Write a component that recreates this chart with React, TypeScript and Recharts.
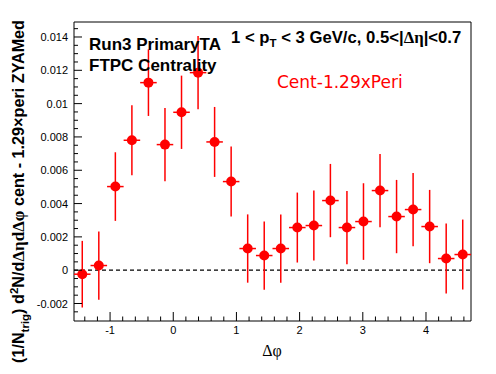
import { ComposedChart, Scatter, ErrorBar, XAxis, YAxis, ReferenceLine, ReferenceArea } from 'recharts'

// Δφ bin centres (24 bins over [-π/2, 3π/2])
const PHI = [
  -1.4399, -1.1781, -0.9163, -0.6545, -0.3927, -0.1309, 0.1309, 0.3927,
  0.6545, 0.9163, 1.1781, 1.4399, 1.7017, 1.9635, 2.2253, 2.4871,
  2.7489, 3.0107, 3.2725, 3.5343, 3.7961, 4.0579, 4.3197, 4.5815,
]
const YIELD = [
  -0.00024, 0.00028, 0.00502, 0.0078, 0.01126, 0.00754, 0.00948, 0.01186,
  0.0077, 0.00532, 0.0013, 0.00088, 0.0013, 0.00256, 0.00268, 0.00418,
  0.00256, 0.00292, 0.00478, 0.00322, 0.00364, 0.00262, 0.0007, 0.00094,
]
const YIELD_ERR = [
  0.002, 0.00205, 0.00206, 0.0021, 0.002, 0.0022, 0.0022, 0.0022,
  0.0021, 0.0021, 0.00205, 0.00205, 0.00205, 0.0021, 0.0021, 0.0022,
  0.0022, 0.0023, 0.0022, 0.0022, 0.0022, 0.0022, 0.0021, 0.0021,
]
const HALF_BIN = 0.1309

const X_MAJOR = [-1, 0, 1, 2, 3, 4]
const X_LABELS = ['-1', '0', '1', '2', '3', '4']
const Y_MAJOR = [-0.002, 0, 0.002, 0.004, 0.006, 0.008, 0.01, 0.012, 0.014]
const Y_LABELS = ['-0.002', '0', '0.002', '0.004', '0.006', '0.008', '0.01', '0.012', '0.014']

const X_TICKS = Array.from({ length: 31 }, (_, i) => Math.round((-1.4 + i * 0.2) * 10) / 10)
const Y_TICKS = Array.from({ length: 35 }, (_, i) => Math.round((-0.0025 + i * 0.0005) * 1e5) / 1e5)

const X_DOMAIN: [number, number] = [-Math.PI / 2, (3 * Math.PI) / 2]
const Y_DOMAIN: [number, number] = [-0.00305, 0.0149]

const SANS = '"Liberation Sans", Arial, Helvetica, sans-serif'
const SERIF = '"Liberation Serif", "Times New Roman", serif'

const data = PHI.map((x, i) => ({ x, y: YIELD[i], ex: HALF_BIN, ey: YIELD_ERR[i] }))

function XTick({ x, y, payload }: any) {
  const v = payload.value as number
  const idx = X_MAJOR.findIndex((m) => Math.abs(m - v) < 1e-6)
  const major = idx >= 0
  return (
    <g>
      <line x1={x} y1={y} x2={x} y2={y - (major ? 9 : 4.5)} stroke="#000" />
      {major && (
        <text x={x} y={y + 13} textAnchor="middle" fontSize={11} fontFamily={SANS} fill="#000">
          {X_LABELS[idx]}
        </text>
      )}
    </g>
  )
}

function YTick({ x, y, payload }: any) {
  const v = payload.value as number
  const idx = Y_MAJOR.findIndex((m) => Math.abs(m - v) < 1e-7)
  const major = idx >= 0
  return (
    <g>
      <line x1={x} y1={y} x2={x + (major ? 8 : 4)} y2={y} stroke="#000" />
      {major && (
        <text x={x - 6} y={y + 4} textAnchor="end" fontSize={11} fontFamily={SANS} fill="#000">
          {Y_LABELS[idx]}
        </text>
      )}
    </g>
  )
}

const dot = (p: any) => <circle cx={p.cx} cy={p.cy} r={5} fill="#ff0000" />

export default function App() {
  return (
    <div style={{ position: 'relative', width: 496, height: 374, background: '#fff' }}>
      <style>{'body{margin:0}'}</style>
      <ComposedChart width={496} height={374} data={data} margin={{ top: 22, right: 25, bottom: 0, left: 0 }}>
        <XAxis
          type="number"
          dataKey="x"
          domain={X_DOMAIN}
          allowDataOverflow
          ticks={X_TICKS}
          interval={0}
          tick={<XTick />}
          tickSize={0}
          tickMargin={0}
          tickLine={false}
          axisLine={false}
          height={53}
        />
        <YAxis
          type="number"
          dataKey="y"
          domain={Y_DOMAIN}
          allowDataOverflow
          ticks={Y_TICKS}
          interval={0}
          tick={<YTick />}
          tickSize={0}
          tickMargin={0}
          tickLine={false}
          axisLine={false}
          width={74}
        />
        <ReferenceArea
          x1={X_DOMAIN[0]}
          x2={X_DOMAIN[1]}
          y1={Y_DOMAIN[0]}
          y2={Y_DOMAIN[1]}
          fill="none"
          fillOpacity={0}
          stroke="#000"
          strokeWidth={1}
        />
        <ReferenceLine y={0} stroke="#000" strokeDasharray="4 3" strokeWidth={1.2} />
        <Scatter data={data} dataKey="y" shape={dot} isAnimationActive={false}>
          <ErrorBar dataKey="ex" direction="x" width={0} stroke="#ff0000" strokeWidth={1.5} />
          <ErrorBar dataKey="ey" direction="y" width={0} stroke="#ff0000" strokeWidth={1.5} />
        </Scatter>
      </ComposedChart>
      <svg
        width={496}
        height={374}
        style={{ position: 'absolute', left: 0, top: 0, pointerEvents: 'none' }}
      >
        <text x={89} y={50} fontSize={17} fontWeight="bold" fontFamily={SANS} fill="#000">
          Run3 PrimaryTA
        </text>
        <text x={89} y={71} fontSize={17} fontWeight="bold" fontFamily={SANS} fill="#000">
          FTPC Centrality
        </text>
        <text x={231} y={43} fontSize={16.7} fontWeight="bold" fontFamily={SANS} fill="#000">
          1 &lt; p<tspan fontSize={11.5} dy={4}>T</tspan>
          <tspan dy={-4}> &lt; 3 GeV/c, 0.5&lt;|</tspan>
          <tspan fontFamily={SERIF}>Δη</tspan>
          <tspan>|&lt;0.7</tspan>
        </text>
        <text x={277} y={88} fontSize={17} fontFamily='"DejaVu Sans", sans-serif' fill="#ff0000">
          Cent-1.29xPeri
        </text>
        <text x={272} y={356} textAnchor="middle" fontSize={16} fontFamily={SERIF} fill="#000">
          Δφ
        </text>
        <text
          transform="translate(24,363) rotate(-90)"
          fontSize={16.2}
          fontWeight="bold"
          fontFamily={SANS}
          fill="#000"
        >
          (1/N<tspan fontSize={11.5} dy={5}>trig</tspan>
          <tspan dy={-5}>) d</tspan>
          <tspan fontSize={11.5} dy={-6}>2</tspan>
          <tspan dy={6}>N/d</tspan>
          <tspan fontFamily={SERIF} fontSize={17}>ΔηdΔφ</tspan>
          <tspan> cent - 1.29×peri ZYAMed</tspan>
        </text>
      </svg>
    </div>
  )
}
